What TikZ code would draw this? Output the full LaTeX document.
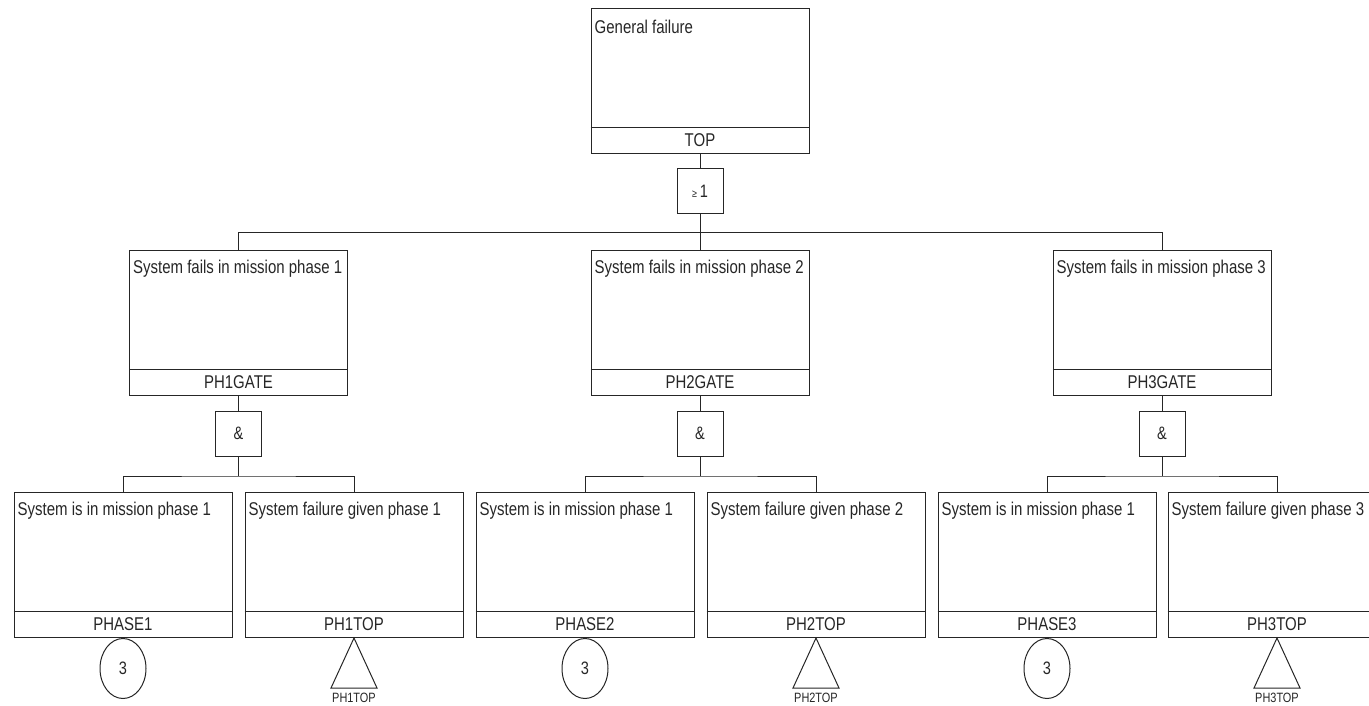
\documentclass[tikz,border=0pt]{standalone}
\usepackage{fontspec}
\setmainfont{Liberation Sans}[FakeStretch=0.81]
\usetikzlibrary{shapes.geometric}
\newcommand\evtbox[5]{%
  \node[evt, anchor=north] (#1) at (#2,#3) {};
  \draw[ln] ([yshift=27pt]#1.south west) -- ([yshift=27pt]#1.south east);
  \node[code] (#1c) at ([yshift=13.5pt]#1.south) {#5};
  \node[desc] (#1d) at ([xshift=4pt,yshift=-19pt]#1.north west) {#4};
}
\begin{document}
\begin{tikzpicture}[x=1pt,y=-1pt,
  ln/.style={line width=1pt, draw=black!85},
  evt/.style={ln, rectangle, minimum width=218pt, minimum height=145pt, inner sep=0pt},
  gatebox/.style={ln, rectangle, minimum width=46pt, minimum height=45pt, inner sep=0pt,
    font=\fontsize{18}{20}\selectfont, text=black!85},
  desc/.style={anchor=west, inner sep=0pt, font=\fontsize{18.5}{20}\selectfont, text=black!85},
  code/.style={inner sep=0pt, font=\fontsize{18.5}{20}\selectfont, text=black!85},
  xfer/.style={ln, ellipse, minimum width=46pt, minimum height=60pt, inner sep=0pt,
    anchor=north, font=\fontsize{18}{20}\selectfont, text=black!85},
  tlabel/.style={inner sep=0pt, anchor=north, font=\fontsize{13.5}{15}\selectfont, text=black!85}
]
\useasboundingbox (0,0) rectangle (1369,705);
\clip (0,0) rectangle (1369,705);

% top event
\evtbox{top}{700}{8}{General failure}{TOP}
\node[gatebox] (g0) at (700,191) {{\fontsize{11}{11}\selectfont ≥}\,1};
\draw[ln] (top.south) -- (g0.north);
\coordinate (bus0) at (700,232);

% middle events
\evtbox{m1}{238.5}{250}{System fails in mission phase 1}{PH1GATE}
\evtbox{m2}{700}{250}{System fails in mission phase 2}{PH2GATE}
\evtbox{m3}{1162}{250}{System fails in mission phase 3}{PH3GATE}
\draw[ln] (g0.south) -- (bus0) -| (m1.north);
\draw[ln] (bus0) -| (m3.north);
\draw[ln] (bus0) -- (m2.north);

% AND gates
\node[gatebox] (a1) at (238.5,433.5) {\&};
\node[gatebox] (a2) at (700,433.5) {\&};
\node[gatebox] (a3) at (1162,433.5) {\&};
\draw[ln] (m1.south) -- (a1.north);
\draw[ln] (m2.south) -- (a2.north);
\draw[ln] (m3.south) -- (a3.north);
\coordinate (bus1) at (238.5,476);
\coordinate (bus2) at (700,476);
\coordinate (bus3) at (1162,476);

% bottom events
\evtbox{b1}{123}{492}{System is in mission phase 1}{PHASE1}
\evtbox{b2}{354}{492}{System failure given phase 1}{PH1TOP}
\evtbox{b3}{585}{492}{System is in mission phase 1}{PHASE2}
\evtbox{b4}{816}{492}{System failure given phase 2}{PH2TOP}
\evtbox{b5}{1047}{492}{System is in mission phase 1}{PHASE3}
\evtbox{b6}{1277}{492}{System failure given phase 3}{PH3TOP}

\draw[ln] (a1.south) -- (bus1);
\draw[ln] (b1.north) |- (bus1) -| (b2.north);
\draw[ln] (a2.south) -- (bus2);
\draw[ln] (b3.north) |- (bus2) -| (b4.north);
\draw[ln] (a3.south) -- (bus3);
\draw[ln] (b5.north) |- (bus3) -| (b6.north);

% transfer symbols
\node[xfer] (c1) at (b1.south) {3};
\node[xfer] (c3) at (b3.south) {3};
\node[xfer] (c5) at (b5.south) {3};

\draw[ln] (b2.south) -- ++(-23pt,-50pt) -- ++(46pt,0pt) -- cycle;
\draw[ln] (b4.south) -- ++(-23pt,-50pt) -- ++(46pt,0pt) -- cycle;
\draw[ln] (b6.south) -- ++(-23pt,-50pt) -- ++(46pt,0pt) -- cycle;
\node[tlabel] (t2) at ([yshift=-55pt]b2.south) {PH1TOP};
\node[tlabel] (t4) at ([yshift=-55pt]b4.south) {PH2TOP};
\node[tlabel] (t6) at ([yshift=-55pt]b6.south) {PH3TOP};
\end{tikzpicture}
\end{document}
